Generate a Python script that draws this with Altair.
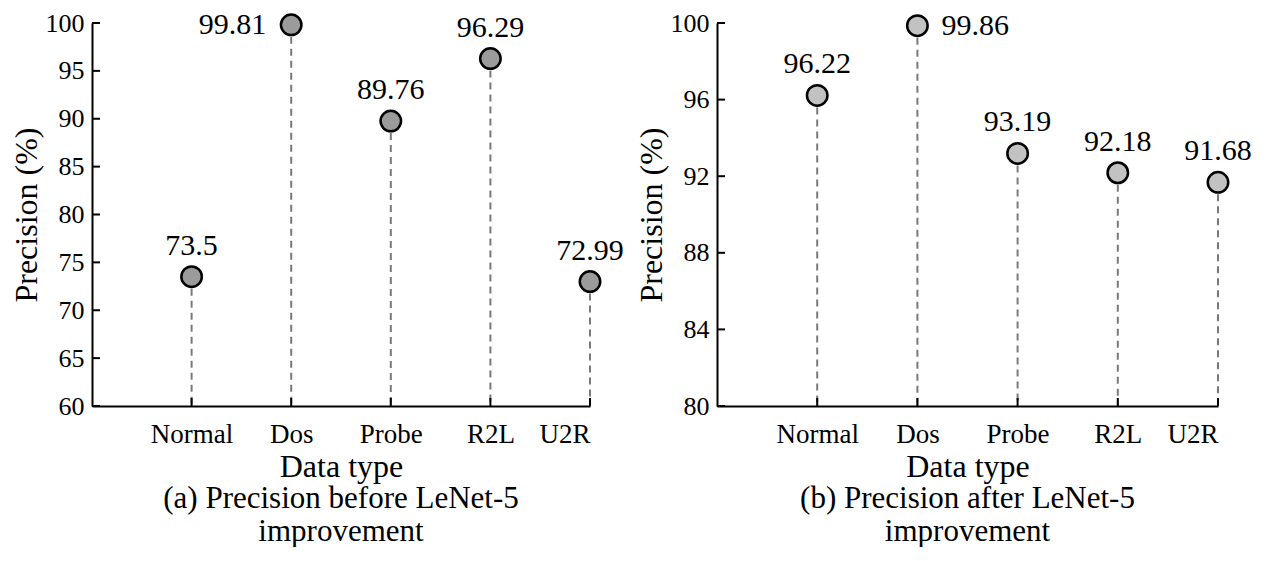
import altair as alt
import pandas as pd

categories = ["Normal", "Dos", "Probe", "R2L", "U2R"]
before_vals = [73.5, 99.81, 89.76, 96.29, 72.99]
after_vals = [96.22, 99.86, 93.19, 92.18, 91.68]

left_ticks = [60, 65, 70, 75, 80, 85, 90, 95, 100]
right_ticks = [80, 84, 88, 92, 96, 100]

FONT = "Liberation Serif"
H = 383

label_expr = "[''," + ",".join(f"'{c}'" for c in categories) + "][datum.value]"


def panel(vals, ymin, yticks, fill, side_cat, side, title_lines, width):
    df = pd.DataFrame({
        "cat": categories,
        "pos": list(range(1, len(categories) + 1)),
        "val": vals,
        "base": [ymin] * len(categories),
    })
    df["lab"] = [f"{v:g}" for v in vals]
    tick_df = pd.DataFrame({"t": yticks})
    xt_df = pd.DataFrame({"p": list(range(1, len(categories) + 1))})

    x = alt.X("pos:Q", scale=alt.Scale(domain=[0, len(categories)], nice=False),
              axis=alt.Axis(values=list(range(1, len(categories) + 1)),
                            labelExpr=label_expr, title="Data type",
                            grid=False, ticks=False, domainColor="black",
                            domainWidth=2, labelFont=FONT, labelFontSize=27,
                            labelColor="black", labelPadding=15,
                            titleFont=FONT, titleFontSize=32, titleFontWeight="normal",
                            titleColor="black", titlePadding=4))
    y = alt.Y("val:Q", scale=alt.Scale(domain=[ymin, 100], nice=False, zero=False),
              axis=alt.Axis(values=yticks, title="Precision (%)", grid=False,
                            ticks=False, domainColor="black", domainWidth=2,
                            labelFont=FONT, labelFontSize=26, labelColor="black",
                            labelPadding=8, titleFont=FONT, titleFontSize=32,
                            titleFontWeight="normal", titleColor="black",
                            titlePadding=2))

    base = alt.Chart(df)
    stems = base.mark_rule(color="#7a7a7a", strokeWidth=2, strokeDash=[7, 5]).encode(
        x=x, y=y, y2="base:Q")
    yt = alt.Chart(tick_df).mark_rule(color="black", strokeWidth=2).encode(
        y=alt.Y("t:Q"), x=alt.value(0), x2=alt.value(8))
    xt = alt.Chart(xt_df).mark_rule(color="black", strokeWidth=2).encode(
        x=alt.X("p:Q"), y=alt.value(H), y2=alt.value(H - 8))
    pts = base.mark_point(filled=True, fill=fill, stroke="black", strokeWidth=2.5,
                          size=420, opacity=1, shape="circle").encode(x=x, y=y)
    top_labels = base.transform_filter(f"datum.cat != '{side_cat}'").mark_text(
        font=FONT, fontSize=30, color="black", baseline="alphabetic", dy=-22).encode(
        x=x, y=y, text="lab:N")
    if side == "left":
        side_labels = base.transform_filter(f"datum.cat == '{side_cat}'").mark_text(
            font=FONT, fontSize=30, color="black", align="right", baseline="middle",
            dx=-25).encode(x=x, y=y, text="lab:N")
    else:
        side_labels = base.transform_filter(f"datum.cat == '{side_cat}'").mark_text(
            font=FONT, fontSize=30, color="black", align="left", baseline="middle",
            dx=24).encode(x=x, y=y, text="lab:N")

    return alt.layer(stems, yt, xt, pts, top_labels, side_labels).properties(
        width=width, height=H,
        title=alt.TitleParams(title_lines, orient="bottom", anchor="middle",
                              font=FONT, fontSize=31, fontWeight="normal",
                              color="black", offset=2, lineHeight=33))


left = panel(before_vals, 60, left_ticks, "#9b9b9b", "Dos", "left",
             ["(a) Precision before LeNet-5", "improvement"], 498)
right = panel(after_vals, 80, right_ticks, "#c2c2c2", "Dos", "right",
              ["(b) Precision after LeNet-5", "improvement"], 501)

chart = alt.hconcat(left, right, spacing=11).configure_view(stroke=None).properties(
    padding={"top": 1, "left": 2, "right": 5, "bottom": 0})

chart.save("out.html", embed_options={"renderer": "svg", "actions": False})
